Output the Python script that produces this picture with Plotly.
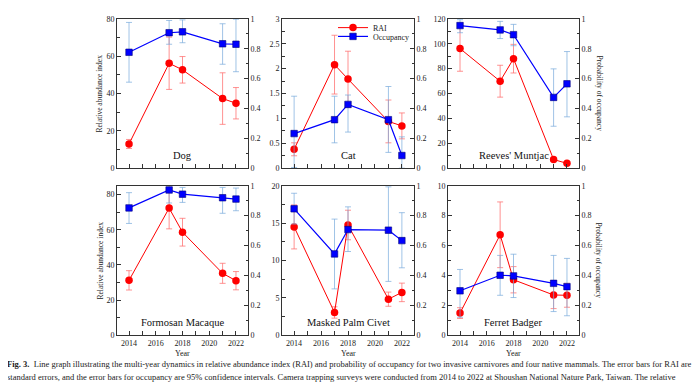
import plotly.graph_objects as go

# ---------------- data ----------------
years = [2014, 2017, 2018, 2021, 2022]
species = ["Dog", "Cat", "Reeves' Muntjac", "Formosan Macaque", "Masked Palm Civet", "Ferret Badger"]

dog_rai = [13.0, 56.2, 52.7, 37.3, 34.8]
dog_rai_se = [2.4, 14.0, 7.1, 13.8, 8.4]
dog_occ = [0.776, 0.907, 0.913, 0.833, 0.830]
dog_occ_lo = [0.576, 0.830, 0.840, 0.696, 0.646]
dog_occ_hi = [0.976, 0.989, 0.993, 0.967, 0.998]

cat_rai = [0.38, 2.08, 1.79, 0.94, 0.85]
cat_rai_se = [0.13, 0.59, 0.56, 0.43, 0.26]
cat_occ = [0.232, 0.325, 0.427, 0.325, 0.085]
cat_occ_lo = [0.005, 0.170, 0.242, 0.106, 0.0]
cat_occ_hi = [0.482, 0.482, 0.490, 0.547, 0.210]

muntjac_rai = [96.1, 69.9, 88.0, 7.0, 3.9]
muntjac_rai_se = [18.2, 12.8, 11.5, 0.8, 0.8]
muntjac_occ = [0.955, 0.926, 0.894, 0.474, 0.565]
muntjac_occ_lo = [0.907, 0.868, 0.820, 0.281, 0.344]
muntjac_occ_hi = [0.994, 0.983, 0.963, 0.665, 0.781]

macaque_rai = [31.2, 72.3, 58.6, 35.2, 31.0]
macaque_rai_se = [5.5, 11.8, 7.9, 5.7, 5.2]
macaque_occ = [0.852, 0.972, 0.944, 0.920, 0.911]
macaque_occ_lo = [0.748, 0.885, 0.889, 0.816, 0.833]
macaque_occ_hi = [0.954, 1.000, 0.989, 0.989, 0.985]

civet_rai = [14.5, 3.04, 14.75, 4.82, 5.73]
civet_rai_se = [2.95, 0.76, 1.98, 0.95, 1.24]
civet_occ = [0.846, 0.544, 0.707, 0.703, 0.633]
civet_occ_lo = [0.744, 0.310, 0.560, 0.360, 0.451]
civet_occ_hi = [0.950, 0.777, 0.859, 0.993, 0.820]

badger_rai = [1.48, 6.72, 3.71, 2.69, 2.67]
badger_rai_se = [0.36, 2.20, 0.88, 0.91, 0.80]
badger_occ = [0.297, 0.401, 0.397, 0.347, 0.325]
badger_occ_lo = [0.120, 0.267, 0.252, 0.158, 0.130]
badger_occ_hi = [0.440, 0.534, 0.542, 0.534, 0.514]

rai_axis_max = [80, 3, 120, 85, 20, 10]
rai_axis_step = [20, 0.5, 20, 20, 5, 2]
xtick_labels = [2014, 2016, 2018, 2020, 2022]

rai_sets = [
    (dog_rai, dog_rai_se, dog_occ, dog_occ_lo, dog_occ_hi),
    (cat_rai, cat_rai_se, cat_occ, cat_occ_lo, cat_occ_hi),
    (muntjac_rai, muntjac_rai_se, muntjac_occ, muntjac_occ_lo, muntjac_occ_hi),
    (macaque_rai, macaque_rai_se, macaque_occ, macaque_occ_lo, macaque_occ_hi),
    (civet_rai, civet_rai_se, civet_occ, civet_occ_lo, civet_occ_hi),
    (badger_rai, badger_rai_se, badger_occ, badger_occ_lo, badger_occ_hi),
]

# ---------------- layout geometry (page pixels; body has an 8px margin) ----------------
OFF = 8
W, H = 700 - OFF, 389 - OFF
col_px = [(117, 248), (282, 414), (448, 579)]
row_px = [(15, 168), (186, 339)]

def px_x(p):
    return (p - OFF) / W

def px_y(p):
    return 1 - (p - OFF) / H

SERIF = "Liberation Serif"
AX = "#333333"
TXT = "#222222"

fig = go.Figure()
layout = dict(
    width=W, height=H,
    margin=dict(l=0, r=0, t=0, b=0),
    paper_bgcolor="white", plot_bgcolor="white",
    font=dict(family=SERIF, size=8, color=TXT),
    showlegend=True,
    legend=dict(x=px_x(333), y=px_y(24), xanchor="left", yanchor="middle",
                bgcolor="rgba(0,0,0,0)", font=dict(family=SERIF, size=8, color=TXT),
                itemwidth=30, tracegroupgap=0, borderwidth=0),
    legend2=dict(x=px_x(333), y=px_y(33), xanchor="left", yanchor="middle",
                 bgcolor="rgba(0,0,0,0)", font=dict(family=SERIF, size=8, color=TXT),
                 itemwidth=30, tracegroupgap=0, borderwidth=0),
)
annotations = []

for i, (rai, se, occ, lo, hi) in enumerate(rai_sets):
    r, c = divmod(i, 3)
    x0, x1 = col_px[c]
    yt, yb = row_px[r]
    xa = f"x{i + 1}"
    yl = f"y{2 * i + 1}"
    yr = f"y{2 * i + 2}"
    xkey = "xaxis" if i == 0 else f"xaxis{i + 1}"
    ylkey = "yaxis" if 2 * i == 0 else f"yaxis{2 * i + 1}"
    yrkey = f"yaxis{2 * i + 2}"

    layout[xkey] = dict(
        domain=[px_x(x0), px_x(x1)], anchor=yl, range=[2013.1, 2022.9],
        tickvals=xtick_labels, showticklabels=(r == 1),
        ticks="inside", ticklen=4, tickcolor=AX, tickwidth=1,
        minor=dict(dtick=1, tick0=2014, ticks="inside", ticklen=4, tickcolor=AX),
        showline=True, linecolor=AX, linewidth=1, mirror=True,
        showgrid=False, zeroline=False,
        tickfont=dict(family=SERIF, size=8, color=TXT),
    )
    layout[ylkey] = dict(
        domain=[px_y(yb), px_y(yt)], anchor=xa, range=[0, rai_axis_max[i]],
        dtick=rai_axis_step[i], tick0=0,
        ticks="inside", ticklen=4, tickcolor=AX,
        minor=dict(dtick=rai_axis_step[i] / 2, ticks="inside", ticklen=2.5, tickcolor=AX),
        showline=True, linecolor=AX, linewidth=1, mirror=True,
        showgrid=False, zeroline=False,
        tickfont=dict(family=SERIF, size=8, color=TXT),
    )
    layout[yrkey] = dict(
        overlaying=yl, anchor=xa, side="right", range=[0, 1],
        dtick=0.2, tick0=0,
        ticks="inside", ticklen=4, tickcolor=AX,
        minor=dict(dtick=0.1, ticks="inside", ticklen=2.5, tickcolor=AX),
        showline=True, linecolor=AX, linewidth=1,
        showgrid=False, zeroline=False,
        tickfont=dict(family=SERIF, size=8, color=TXT),
    )

    fig.add_trace(go.Scatter(
        x=years, y=rai, xaxis=xa, yaxis=yl, mode="lines+markers",
        name="RAI", showlegend=(i == 1), legend="legend",
        line=dict(color="#ff0000", width=1),
        marker=dict(symbol="circle", size=7.5, color="#ff0000"),
        error_y=dict(type="data", array=se, visible=True,
                     color="rgba(255,110,110,0.75)", thickness=1, width=3),
    ))
    fig.add_trace(go.Scatter(
        x=years, y=occ, xaxis=xa, yaxis=yr, mode="lines+markers",
        name="Occupancy", showlegend=(i == 1), legend="legend2",
        line=dict(color="#0000ff", width=1.2),
        marker=dict(symbol="square", size=6.5, color="#0000ff",
                    line=dict(color="#00007a", width=0.6)),
        error_y=dict(type="data", symmetric=False,
                     array=[h - o for h, o in zip(hi, occ)],
                     arrayminus=[o - l for o, l in zip(occ, lo)],
                     visible=True, color="rgba(120,170,220,0.7)", thickness=1, width=3),
    ))

    annotations.append(dict(
        text=species[i], xref="paper", yref="paper",
        x=px_x((x0 + x1) / 2), y=px_y(yb - 13),
        xanchor="center", yanchor="middle", showarrow=False,
        font=dict(family=SERIF, size=10.5, color="#111111"),
    ))

# axis titles
for r in range(2):
    yt, yb = row_px[r]
    annotations.append(dict(
        text="Relative abundance index", xref="paper", yref="paper",
        x=px_x(100), y=px_y((yt + yb) / 2), textangle=-90,
        xanchor="center", yanchor="middle", showarrow=False,
        font=dict(family=SERIF, size=7.5, color=TXT)))
    annotations.append(dict(
        text="Probability of occupancy", xref="paper", yref="paper",
        x=px_x(599), y=px_y((yt + yb) / 2), textangle=90,
        xanchor="center", yanchor="middle", showarrow=False,
        font=dict(family=SERIF, size=7.5, color=TXT)))
for c in range(3):
    x0, x1 = col_px[c]
    annotations.append(dict(
        text="Year", xref="paper", yref="paper",
        x=px_x((x0 + x1) / 2), y=px_y(358),
        xanchor="center", yanchor="middle", showarrow=False,
        font=dict(family=SERIF, size=8, color=TXT)))

caption1 = ("<b>Fig. 3.</b>  Line graph illustrating the multi-year dynamics in relative abundance index (RAI) "
            "and probability of occupancy for two invasive carnivores and four native mammals. The error bars for RAI are")
caption2 = ("standard errors, and the error bars for occupancy are 95% confidence intervals. Camera trapping surveys "
            "were conducted from 2014 to 2022 at Shoushan National Nature Park, Taiwan. The relative")
annotations.append(dict(text=caption1, xref="paper", yref="paper", x=px_x(5), y=px_y(369),
                        xanchor="left", yanchor="middle", showarrow=False,
                        font=dict(family=SERIF, size=8.5, color=TXT)))
annotations.append(dict(text=caption2, xref="paper", yref="paper", x=px_x(5), y=px_y(382),
                        xanchor="left", yanchor="middle", showarrow=False,
                        font=dict(family=SERIF, size=8.5, color=TXT)))

layout["annotations"] = annotations
fig.update_layout(**layout)
fig.write_html("out.html")
